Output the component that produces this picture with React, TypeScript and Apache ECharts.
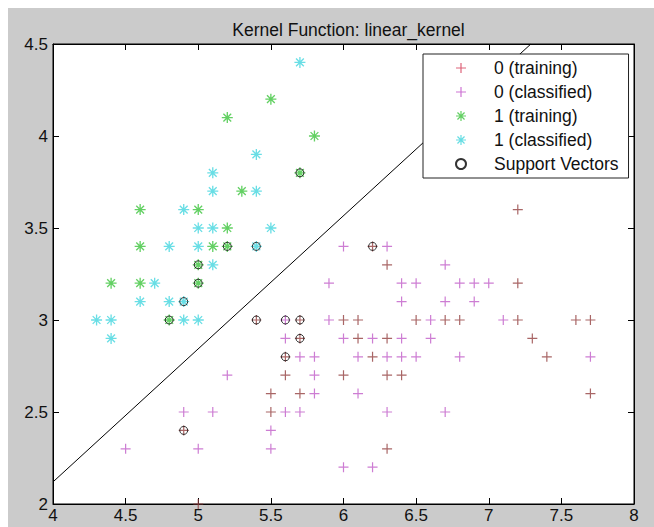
import React, { useEffect, useRef } from 'react';
import * as echarts from 'echarts';

// ---- data (sepal length, sepal width) ----
const train0: number[][] = [
  [5.0, 2.0], [7.2, 3.6], [6.3, 3.3], [7.2, 3.2], [6.0, 3.0], [6.1, 3.0], [6.5, 3.0], [6.7, 3.0],
  [6.8, 3.0], [7.2, 3.0], [7.6, 3.0], [7.7, 3.0], [6.1, 2.9], [6.3, 2.9], [7.3, 2.9], [6.2, 2.8],
  [7.4, 2.8], [5.6, 2.7], [6.0, 2.7], [6.3, 2.7], [6.4, 2.7], [5.5, 2.6], [5.7, 2.6], [7.7, 2.6],
  [5.5, 2.5], [6.3, 2.3], [5.4, 3.0], [5.7, 3.0], [5.7, 2.9], [5.6, 2.8], [4.9, 2.4], [6.2, 3.4],
];
const class0: number[][] = [
  [4.5, 2.3], [5.0, 2.3], [5.5, 2.3], [4.9, 2.5], [5.1, 2.5], [5.6, 2.5], [5.7, 2.5], [6.3, 2.5],
  [6.7, 2.5], [5.5, 2.4], [6.0, 2.2], [6.2, 2.2], [5.2, 2.7], [5.8, 2.7], [5.8, 2.6], [6.1, 2.6],
  [5.7, 2.8], [5.8, 2.8], [6.1, 2.8], [6.3, 2.8], [6.4, 2.8], [6.5, 2.8], [6.8, 2.8], [7.7, 2.8],
  [5.6, 2.9], [6.0, 2.9], [6.2, 2.9], [6.4, 2.9], [6.6, 2.9], [5.6, 3.0], [5.9, 3.0], [6.6, 3.0],
  [7.1, 3.0], [6.4, 3.1], [6.7, 3.1], [6.9, 3.1], [5.9, 3.2], [6.4, 3.2], [6.5, 3.2], [6.8, 3.2],
  [6.9, 3.2], [7.0, 3.2], [6.7, 3.3], [6.0, 3.4], [6.3, 3.4],
];
const train1: number[][] = [
  [5.5, 4.2], [5.2, 4.1], [5.8, 4.0], [5.3, 3.7], [4.6, 3.6], [5.0, 3.6], [5.2, 3.5], [4.6, 3.4],
  [5.1, 3.4], [4.4, 3.2], [4.6, 3.2], [5.7, 3.8], [5.2, 3.4], [5.0, 3.3], [5.0, 3.2], [4.8, 3.0],
];
const class1: number[][] = [
  [5.7, 4.4], [5.4, 3.9], [5.1, 3.8], [5.1, 3.7], [5.4, 3.7], [4.9, 3.6], [5.0, 3.5], [5.1, 3.5],
  [5.5, 3.5], [4.8, 3.4], [5.0, 3.4], [5.1, 3.3], [4.7, 3.2], [4.6, 3.1], [4.8, 3.1], [4.3, 3.0],
  [4.4, 3.0], [4.9, 3.0], [5.0, 3.0], [4.4, 2.9], [5.4, 3.4], [4.9, 3.1],
];
const supportVectors: number[][] = [
  [5.7, 3.8], [5.2, 3.4], [5.0, 3.3], [5.0, 3.2], [4.8, 3.0], [5.4, 3.4], [4.9, 3.1],
  [5.4, 3.0], [5.6, 3.0], [5.7, 3.0], [5.7, 2.9], [5.6, 2.8], [4.9, 2.4], [6.2, 3.4],
];
const boundary: number[][] = [[4, 2.12], [7.29, 4.5]];

const seriesNames = ['0 (training)', '0 (classified)', '1 (training)', '1 (classified)', 'Support Vectors'];
const xRange = [4, 8];
const yRange = [2, 4.5];
const tickStep = 0.5;
const titleText = 'Kernel Function: linear_kernel';

const PLUS = 'path://M4.4,0H5.6V4.4H10V5.6H5.6V10H4.4V5.6H0V4.4H4.4Z';
const STAR =
  'path://M0,5.6L10,5.6L10,4.4L0,4.4Z M4.4,0L4.4,10L5.6,10L5.6,0Z ' +
  'M1.04,1.888L8.112,8.96L8.96,8.112L1.888,1.04Z M1.888,8.96L8.96,1.888L8.112,1.04L1.04,8.112Z';

const FONT = '"Liberation Sans", Arial, sans-serif';

export default function App() {
  const ref = useRef<HTMLDivElement>(null);
  useEffect(() => {
    const chart = echarts.init(ref.current!, null, { renderer: 'svg' });
    const axisCommon = {
      type: 'value' as const,
      interval: tickStep,
      axisLine: { show: true, lineStyle: { color: '#000', width: 1 } },
      axisTick: { show: true, inside: true, length: 6, lineStyle: { color: '#000' } },
      splitLine: { show: false },
    };
    chart.setOption({
      animation: false,
      backgroundColor: '#cbcbcb',
      textStyle: { fontFamily: FONT },
      title: {
        text: titleText,
        left: 335.5,
        top: 8,
        textAlign: 'center',
        textStyle: { fontSize: 17.5, fontWeight: 'normal', color: '#111', fontFamily: FONT },
      },
      grid: {
        left: 45, right: 20, top: 36, bottom: 23,
        show: true, backgroundColor: '#fff', borderColor: '#000', borderWidth: 1,
      },
      xAxis: [
        {
          ...axisCommon, min: xRange[0], max: xRange[1], position: 'bottom',
          axisLabel: { color: '#111', fontSize: 17, margin: 3, fontFamily: FONT },
        },
        {
          ...axisCommon, min: xRange[0], max: xRange[1], position: 'top',
          axisLabel: { show: false },
        },
      ],
      yAxis: [
        {
          ...axisCommon, min: yRange[0], max: yRange[1], position: 'left',
          axisLabel: { color: '#111', fontSize: 17, margin: 5, fontFamily: FONT },
        },
        {
          ...axisCommon, min: yRange[0], max: yRange[1], position: 'right',
          axisLabel: { show: false },
        },
      ],
      legend: {
        orient: 'vertical',
        left: 415,
        top: 46,
        padding: [4, 10, 4, 32],
        backgroundColor: '#fff',
        borderColor: '#222',
        borderWidth: 1,
        borderRadius: 0,
        itemWidth: 56,
        itemHeight: 10,
        itemGap: 4,
        textStyle: { fontSize: 17.5, color: '#111', lineHeight: 20, fontFamily: FONT },
        data: [
          { name: seriesNames[0], icon: PLUS, itemStyle: { color: '#d43c58' } },
          { name: seriesNames[1], icon: PLUS, itemStyle: { color: '#c050c8' } },
          { name: seriesNames[2], icon: STAR, itemStyle: { color: '#3cc43c' } },
          { name: seriesNames[3], icon: STAR, itemStyle: { color: '#40d4dc' } },
          { name: seriesNames[4], icon: 'circle' },
        ],
      },
      series: [
        {
          type: 'line', data: boundary, showSymbol: false, silent: true,
          lineStyle: { color: '#000', width: 1 }, z: 1,
        },
        {
          name: seriesNames[0], type: 'scatter', data: train0, symbol: PLUS, symbolSize: 10,
          itemStyle: { color: '#944040' }, z: 2,
        },
        {
          name: seriesNames[1], type: 'scatter', data: class0, symbol: PLUS, symbolSize: 10,
          itemStyle: { color: '#c05cc8' }, z: 3,
        },
        {
          name: seriesNames[2], type: 'scatter', data: train1, symbol: STAR, symbolSize: 11,
          itemStyle: { color: '#3cc43c' }, z: 2,
        },
        {
          name: seriesNames[3], type: 'scatter', data: class1, symbol: STAR, symbolSize: 11,
          itemStyle: { color: '#44d6de' }, z: 3,
        },
        {
          name: seriesNames[4], type: 'scatter', data: supportVectors, symbol: 'circle', symbolSize: 8,
          itemStyle: { color: 'rgba(0,0,0,0)', borderColor: '#000', borderWidth: 1 }, z: 4,
        },
      ],
    });
    return () => chart.dispose();
  }, []);
  return (
    <div
      ref={ref}
      style={{ position: 'absolute', left: 8, top: 8, width: 646, height: 519 }}
    />
  );
}
